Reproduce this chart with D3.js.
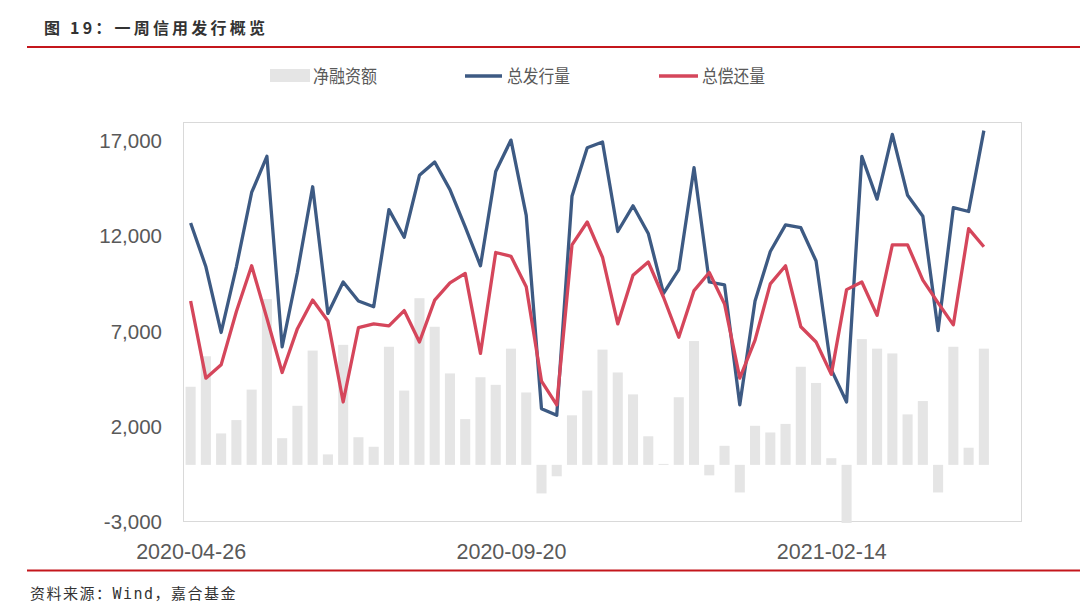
<!DOCTYPE html>
<html>
<head>
<meta charset="utf-8">
<script src="https://cdn.jsdelivr.net/npm/d3@7"></script>
<style>
  html, body { margin: 0; padding: 0; background: #fff; }
  svg { display: block; }
</style>
</head>
<body>
<svg id="chart" width="1080" height="613"></svg>
<script>
// ---- data ----
const dates = [
  "2020-04-26","2020-05-03","2020-05-10","2020-05-17","2020-05-24","2020-05-31","2020-06-07",
  "2020-06-14","2020-06-21","2020-06-28","2020-07-05","2020-07-12","2020-07-19","2020-07-26",
  "2020-08-02","2020-08-09","2020-08-16","2020-08-23","2020-08-30","2020-09-06","2020-09-13",
  "2020-09-20","2020-09-27","2020-10-04","2020-10-11","2020-10-18","2020-10-25","2020-11-01",
  "2020-11-08","2020-11-15","2020-11-22","2020-11-29","2020-12-06","2020-12-13","2020-12-20",
  "2020-12-27","2021-01-03","2021-01-10","2021-01-17","2021-01-24","2021-01-31","2021-02-07",
  "2021-02-14","2021-02-21","2021-02-28","2021-03-07","2021-03-14","2021-03-21","2021-03-28",
  "2021-04-04","2021-04-11","2021-04-18","2021-04-25"
];
const issuance = [
  12700,10400,6950,10400,14300,16200,6200,10100,14600,7950,9600,8600,8300,13400,
  11950,15200,15900,14450,12500,10450,15400,17050,13100,2950,2600,14100,16650,16950,
  12250,13600,12150,9000,10250,15600,9600,9450,3150,8600,11200,12600,12450,10700,
  5000,3300,16200,13950,17350,14150,13050,7050,13500,13300,17550
];
const repayment = [
  8600,4550,5250,8050,10450,7700,4850,7150,8650,7550,3300,7200,7400,7300,
  8100,6450,8650,9550,10050,5850,11150,10950,9350,4400,3150,11550,12750,10900,
  7400,9950,10650,8800,6700,9150,10100,8450,4550,6550,9500,10450,7250,6450,
  4750,9200,9600,7850,11550,11550,9700,8500,7350,12400,11450
];
const netFinancing = [
  4100,5700,1650,2350,3950,8700,1400,3100,6000,550,6300,1450,950,6200,
  3900,8750,7250,4800,2400,4600,4200,6100,3800,-1500,-600,2600,3900,6050,
  4850,3700,1500,50,3550,6500,-550,1000,-1450,2050,1700,2150,5150,4300,
  350,-3050,6600,6100,5850,2650,3350,-1450,6200,900,6100
];
const yTicks = [-3000, 2000, 7000, 12000, 17000];
const xTickIdx = [0, 21, 42];
const seriesNames = ["净融资额", "总发行量", "总偿还量"];
const title = "图 19：一周信用发行概览";
const source = "资料来源：Wind，嘉合基金";

// ---- layout ----
const svg = d3.select("#chart");
const plot = { left: 183, right: 1022, top: 122, bottom: 522 };
const colors = { bar: "#e5e5e5", blue: "#3d5a83", red: "#d5465b", red2: "#c4161c" };

const slots = d3.range(dates.length + 2);
const x = d3.scaleBand().domain(slots).range([plot.left, plot.right]).paddingInner(0.34).paddingOuter(0.17);
const step = x.step();
const cx = i => plot.left + step * (i + 0.5);
const y = d3.scaleLinear().domain([-3000, 18000]).range([plot.bottom, plot.top]);

// title + rules
svg.append("text").attr("x", 44).attr("y", 34)
  .attr("font-family", "'Noto Sans CJK SC', sans-serif").attr("font-weight", "bold")
  .attr("font-size", 16).attr("letter-spacing", 3.2).attr("fill", "#333").text(title);
svg.append("line").attr("x1", 27).attr("x2", 1080).attr("y1", 47).attr("y2", 47)
  .attr("stroke", colors.red2).attr("stroke-width", 2);
svg.append("line").attr("x1", 27).attr("x2", 1080).attr("y1", 570.5).attr("y2", 570.5)
  .attr("stroke", colors.red2).attr("stroke-width", 2);
svg.append("text").attr("x", 30).attr("y", 599)
  .attr("font-family", "'DejaVu Sans Mono', 'Noto Sans CJK SC', monospace")
  .attr("font-size", 15).attr("letter-spacing", 1.5).attr("fill", "#333").text(source);

// frame
svg.append("rect").attr("x", plot.left + 0.5).attr("y", plot.top + 0.5)
  .attr("width", plot.right - plot.left - 1).attr("height", plot.bottom - plot.top - 1)
  .attr("fill", "none").attr("stroke", "#d9d9d9").attr("stroke-width", 1);

// bars
const bw = x.bandwidth();
svg.append("g").selectAll("rect").data(netFinancing).join("rect")
  .attr("x", (d, i) => cx(i) - bw / 2)
  .attr("y", d => Math.min(y(d), y(0)))
  .attr("width", bw)
  .attr("height", d => Math.abs(y(d) - y(0)))
  .attr("fill", colors.bar);

// lines
const line = d3.line().x((d, i) => cx(i)).y(d => y(d));
svg.append("path").datum(issuance).attr("d", line).attr("fill", "none")
  .attr("stroke", colors.blue).attr("stroke-width", 3.3).attr("stroke-linejoin", "round");
svg.append("path").datum(repayment).attr("d", line).attr("fill", "none")
  .attr("stroke", colors.red).attr("stroke-width", 3.3).attr("stroke-linejoin", "round");

// axes
const axisFont = "'Liberation Sans', Arial, sans-serif";
const fmt = d3.format(",");
const yAxis = svg.append("g").attr("transform", `translate(${plot.left},0)`)
  .call(d3.axisLeft(y).tickValues(yTicks).tickFormat(d => fmt(d).replace("\u2212", "-")).tickSize(0).tickPadding(21));
yAxis.select(".domain").remove();
yAxis.selectAll("text").attr("font-family", axisFont).attr("font-size", 20.5).attr("fill", "#595959");

const xAxis = svg.append("g").attr("transform", `translate(0,${plot.bottom})`)
  .call(d3.axisBottom(d3.scaleLinear().domain([0, 1]).range([cx(0), cx(1)]))
    .tickValues(xTickIdx).tickFormat(i => dates[i]).tickSize(0).tickPadding(22));
xAxis.select(".domain").remove();
xAxis.selectAll("text").attr("font-family", axisFont).attr("font-size", 21.5).attr("fill", "#595959");

// legend
const lg = svg.append("g").attr("font-family", "'Noto Sans CJK SC', sans-serif")
  .attr("font-size", 18).attr("fill", "#595959");
lg.append("rect").attr("x", 270).attr("y", 69).attr("width", 40).attr("height", 13).attr("fill", colors.bar);
lg.append("text").attr("x", 313).attr("y", 83).attr("textLength", 64).attr("lengthAdjust", "spacingAndGlyphs").text(seriesNames[0]);
lg.append("line").attr("x1", 465).attr("x2", 502).attr("y1", 76).attr("y2", 76)
  .attr("stroke", colors.blue).attr("stroke-width", 3.3);
lg.append("text").attr("x", 507).attr("y", 83).attr("textLength", 63).attr("lengthAdjust", "spacingAndGlyphs").text(seriesNames[1]);
lg.append("line").attr("x1", 659).attr("x2", 698).attr("y1", 76).attr("y2", 76)
  .attr("stroke", colors.red).attr("stroke-width", 3.3);
lg.append("text").attr("x", 702).attr("y", 83).attr("textLength", 63).attr("lengthAdjust", "spacingAndGlyphs").text(seriesNames[2]);
</script>
</body>
</html>
